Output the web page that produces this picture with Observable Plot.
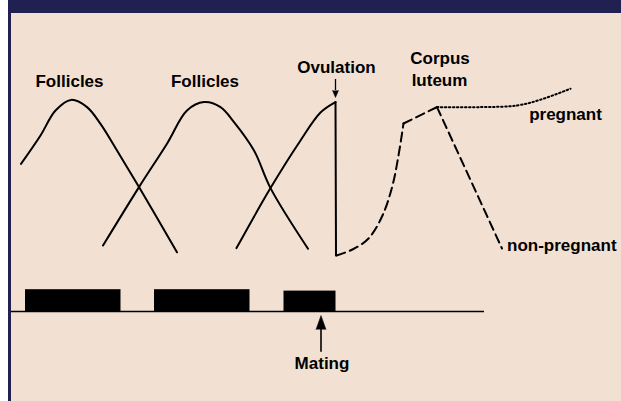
<!DOCTYPE html>
<html>
<head>
<meta charset="utf-8">
<script src="https://cdn.jsdelivr.net/npm/d3@7"></script>
<script src="https://cdn.jsdelivr.net/npm/@observablehq/plot@0.6"></script>
<style>
  html, body { margin: 0; padding: 0; background: #f2e1d3; width: 621px; height: 401px; overflow: hidden; }
  #wrap { position: relative; width: 621px; height: 401px; background: #f2e1d3; overflow: hidden; }
  #wrap svg { position: absolute; left: 0; top: 0; font-family: "Liberation Sans", Arial, sans-serif; }
  .strip { position: absolute; }
</style>
</head>
<body>
<div id="wrap">
  <div class="strip" style="left:0;top:0;width:8px;height:401px;background:#ffffff;z-index:2"></div>
  <div class="strip" style="left:8px;top:0;width:613px;height:13px;background:#202150;z-index:2"></div>
  <div class="strip" style="left:8px;top:0;width:3px;height:401px;background:#202150;z-index:2"></div>
</div>
<script>
// time (x) and hormone level (y) in arbitrary units
const follicle1 = [[4.1,73.8],[8,88],[11,100.5],[14.1,105.8],[17.3,102.2],[20,93.8],[23.3,80.5],[27.7,62.2],[35.3,29.6]];
const follicle2 = [[20.5,33],[27.7,62.2],[33.3,83.9],[37.3,100.5],[40.7,104.7],[44,102.2],[46.7,94.7],[50.7,80.5],[54,61.7],[61.5,31.4]];
const follicle3 = [[47.2,31.7],[54,61.7],[60,85.5],[64,99.5],[67,104.7]];
const ovulationDrop = [[67,104.7],[67.1,28]];
const lutealRise = [[67.2,28],[70.4,31],[73.6,36.5],[76.4,48],[78.4,63],[79.6,78],[80.6,94]];
const lutealPeak = [[80.6,94],[87.3,102.2]];
const nonPregnant = [[87.3,102.2],[100.3,31.5]];
const pregnant = [[87.3,102.2],[96,102.2],[103.3,103],[108,105.9],[114,111.4]];

// behavioural oestrus periods (bars)
const barStart = [5, 30.8, 56.7];
const barEnd = [24.1, 49.9, 67.1];
const barHeight = [10.9, 10.9, 10.2];
const axisStart = 2, axisEnd = 96.8;

// labels
const labels = [
  {t: 13.8, L: 112.2, text: "Follicles", anchor: "middle"},
  {t: 40.9, L: 112.2, text: "Follicles", anchor: "middle"},
  {t: 67.2, L: 119.5, text: "Ovulation", anchor: "middle"},
  {t: 87.9, L: 123.9, text: "Corpus", anchor: "middle"},
  {t: 87.8, L: 113, text: "luteum", anchor: "middle"},
  {t: 113, L: 95.8, text: "pregnant", anchor: "middle"},
  {t: 101.3, L: 30.5, text: "non-pregnant", anchor: "start"},
  {t: 64.3, L: -28.5, text: "Mating", anchor: "middle"}
];
const ovulationArrow = {t: 67, from: 116, base: 110.5};
const matingArrow = {t: 64.1, from: -20.4, base: -9};

const bars = barStart.map((s, i) => ({x1: s, x2: barEnd[i], h: barHeight[i]}));
const X = d => d[0], Y = d => d[1];

const chart = Plot.plot({
  width: 621,
  height: 401,
  margin: 0,
  x: {domain: [0, 124.2], axis: null},
  y: {domain: [-45, 155.5], axis: null},
  style: {background: "transparent", fontFamily: "Liberation Sans, Arial, sans-serif"},
  marks: [
    Plot.rect(bars, {x1: "x1", x2: "x2", y1: 0, y2: "h", fill: "#000"}),
    Plot.ruleY([0], {x1: axisStart, x2: axisEnd, stroke: "#000", strokeWidth: 1.5}),
    Plot.line(follicle1, {x: X, y: Y, curve: "catmull-rom", stroke: "#000", strokeWidth: 2}),
    Plot.line(follicle2, {x: X, y: Y, curve: "catmull-rom", stroke: "#000", strokeWidth: 2}),
    Plot.line(follicle3, {x: X, y: Y, curve: "catmull-rom", stroke: "#000", strokeWidth: 2}),
    Plot.line(ovulationDrop, {x: X, y: Y, stroke: "#000", strokeWidth: 2}),
    Plot.line(lutealRise, {x: X, y: Y, curve: "catmull-rom", stroke: "#000", strokeWidth: 2, strokeDasharray: "9,5"}),
    Plot.line(lutealPeak, {x: X, y: Y, stroke: "#000", strokeWidth: 2, strokeDasharray: "9,5"}),
    Plot.line(nonPregnant, {x: X, y: Y, stroke: "#000", strokeWidth: 2, strokeDasharray: "9,5"}),
    Plot.line(pregnant, {x: X, y: Y, curve: "catmull-rom", stroke: "#000", strokeWidth: 2, strokeDasharray: "1.5,2.5"}),
    // arrows
    Plot.ruleX([ovulationArrow], {x: "t", y1: "from", y2: "base", stroke: "#000", strokeWidth: 1.3}),
    Plot.vector([ovulationArrow], {x: "t", y: "base", length: 7, r: 3, rotate: 180, shape: "spike", anchor: "start", fill: "#000", stroke: "#000", strokeWidth: 0.5}),
    Plot.ruleX([matingArrow], {x: "t", y1: "from", y2: "base", stroke: "#000", strokeWidth: 1.6}),
    Plot.vector([matingArrow], {x: "t", y: "base", length: 14, r: 5, rotate: 0, shape: "spike", anchor: "start", fill: "#000", stroke: "#000", strokeWidth: 0.5}),
    // labels
    Plot.text(labels.filter(d => d.anchor === "middle"), {x: "t", y: "L", text: "text", textAnchor: "middle", lineAnchor: "bottom", fontSize: 17, fontWeight: "bold", fill: "#000"}),
    Plot.text(labels.filter(d => d.anchor === "start"), {x: "t", y: "L", text: "text", textAnchor: "start", lineAnchor: "bottom", fontSize: 17, fontWeight: "bold", fill: "#000"})
  ]
});
document.getElementById("wrap").appendChild(chart);
</script>
</body>
</html>
